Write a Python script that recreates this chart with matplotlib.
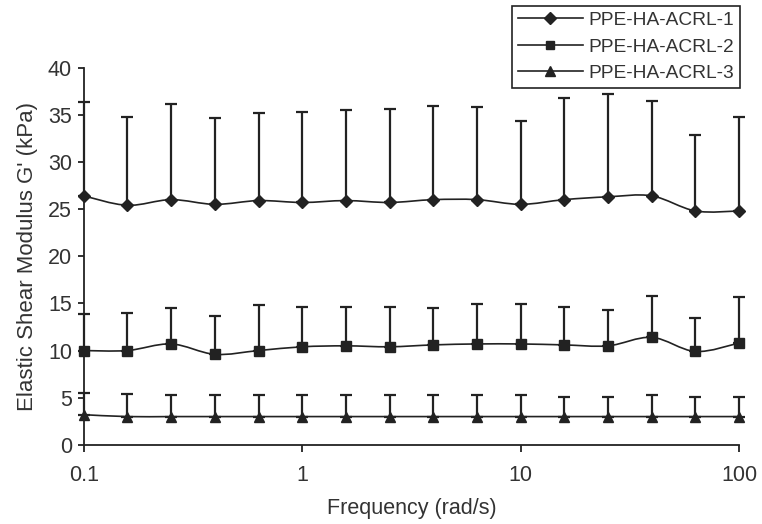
import numpy as np
import matplotlib
matplotlib.use('Agg')
import matplotlib.pyplot as plt
from matplotlib.path import Path
from matplotlib.patches import PathPatch
from matplotlib.lines import Line2D
from matplotlib.ticker import FixedLocator, NullLocator

plt.rcParams['font.family'] = ['Liberation Sans', 'DejaVu Sans']

# ── Data ──────────────────────────────────────────────────────────────────────
freq = [0.1, 0.158, 0.251, 0.398, 0.631, 1.0, 1.58, 2.51,
        3.98, 6.31, 10.0, 15.8, 25.1, 39.8, 63.1, 100.0]

labels = ['PPE-HA-ACRL-1', 'PPE-HA-ACRL-2', 'PPE-HA-ACRL-3']

g1 = [26.4, 25.4, 26.0, 25.5, 25.9, 25.7, 25.9, 25.7,
      26.0, 26.0, 25.5, 26.0, 26.3, 26.4, 24.8, 24.8]
g1_err = [9.9, 9.4, 10.1, 9.2, 9.3, 9.6, 9.6, 9.9,
          9.9, 9.8, 8.8, 10.8, 10.9, 10.1, 8.1, 10.0]

g2 = [10.0, 10.0, 10.7, 9.6, 10.0, 10.4, 10.5, 10.4,
      10.6, 10.7, 10.7, 10.6, 10.5, 11.4, 9.9, 10.8]
g2_err = [3.9, 4.0, 3.8, 4.1, 4.8, 4.2, 4.1, 4.2,
          3.9, 4.2, 4.2, 4.0, 3.8, 4.4, 3.5, 4.9]

g3 = [3.2, 3.0, 3.0, 3.0, 3.0, 3.0, 3.0, 3.0,
      3.0, 3.0, 3.0, 3.0, 3.0, 3.0, 3.0, 3.0]
g3_err = [2.3, 2.4, 2.3, 2.3, 2.3, 2.3, 2.3, 2.3,
          2.3, 2.3, 2.3, 2.1, 2.1, 2.3, 2.1, 2.1]

markers = ['D', 's', '^']
msizes = [6.5, 6.5, 7.5]
INK = '#222222'
TXT = '#333333'


# ── Helper: smoothed (Excel-like) curve through the points ────────────────────
def smooth_path(x, y):
    pts = np.column_stack([np.log10(x), y])
    n = len(pts)
    verts = [pts[0]]
    codes = [Path.MOVETO]
    for i in range(n - 1):
        p0 = pts[max(i - 1, 0)]
        p1, p2 = pts[i], pts[i + 1]
        p3 = pts[min(i + 2, n - 1)]
        verts += [p1 + (p2 - p0) / 6, p2 - (p3 - p1) / 6, p2]
        codes += [Path.CURVE4] * 3
    verts = np.array(verts)
    verts[:, 0] = 10 ** verts[:, 0]
    return Path(verts, codes)


# ── Plot ──────────────────────────────────────────────────────────────────────
fig = plt.figure(figsize=(7.62, 5.24), dpi=100)
ax = fig.add_axes([0.110, 0.151, 0.860, 0.720])
ax.set_xscale('log')

handles = []
for vals, errs, mk, ms, lab in zip([g1, g2, g3], [g1_err, g2_err, g3_err],
                                   markers, msizes, labels):
    ax.add_patch(PathPatch(smooth_path(freq, vals), fill=False,
                           edgecolor=INK, linewidth=1.2, zorder=2))
    eb = ax.errorbar(freq, vals, yerr=[np.zeros(len(errs)), errs], fmt='none',
                     ecolor=INK, elinewidth=1.6, capsize=4.5, capthick=1.6,
                     zorder=3)
    for art in eb.lines[1] + eb.lines[2]:
        art.set_clip_on(False)
    ax.plot(freq, vals, linestyle='none', marker=mk, markersize=ms,
            color=INK, clip_on=False, zorder=4)
    handles.append(Line2D([], [], color=INK, linewidth=1.2, marker=mk,
                          markersize=ms - 0.5))

ax.set_xlim(0.1, 100)
ax.set_ylim(0, 40)
ax.xaxis.set_major_locator(FixedLocator([0.1, 1, 10, 100]))
ax.xaxis.set_minor_locator(NullLocator())
ax.set_xticklabels(['0.1', '1', '10', '100'])
ax.set_yticks(range(0, 41, 5))

for side in ['top', 'right']:
    ax.spines[side].set_visible(False)
for side in ['left', 'bottom']:
    ax.spines[side].set_color(INK)
    ax.spines[side].set_linewidth(1.3)

ax.tick_params(axis='both', direction='out', colors=INK, width=1.3,
               labelsize=15.5, labelcolor=TXT)
ax.tick_params(axis='x', length=5, pad=9.5)
ax.tick_params(axis='y', length=4.5, pad=4)

ax.set_xlabel('Frequency (rad/s)', fontsize=15.5, color=TXT, labelpad=8.5)
ax.set_ylabel("Elastic Shear Modulus G' (kPa)", fontsize=16, color=TXT,
              labelpad=7)

leg = fig.legend(handles, labels, loc='upper right',
                 bbox_to_anchor=(740 / 762, 1 - 6 / 524), borderaxespad=0,
                 fontsize=13.8, handlelength=3.4, numpoints=1,
                 labelspacing=0.47, handletextpad=0.3, borderpad=0.3,
                 fancybox=False, framealpha=1)
leg.get_frame().set_edgecolor(INK)
leg.get_frame().set_linewidth(1.2)
for t in leg.get_texts():
    t.set_color(TXT)

plt.savefig('out.png', dpi=100)
